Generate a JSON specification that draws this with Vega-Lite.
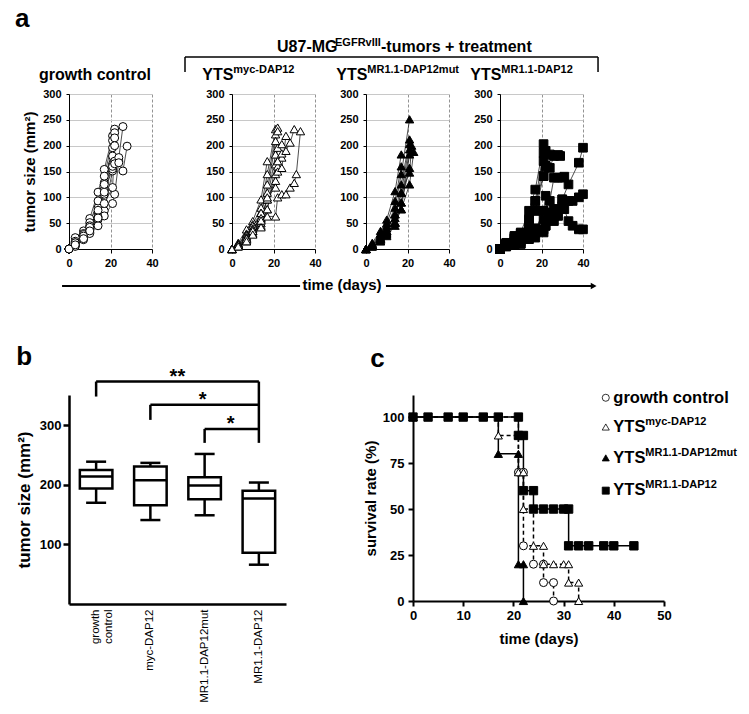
{
"$schema":"https://vega.github.io/schema/vega-lite/v6.json",
"background":"white",
"padding":{"left":15,"top":5,"right":5,"bottom":5},
"config":{"font":"Liberation Sans","view":{"stroke":null},
 "axis":{"domainColor":"black","tickColor":"black","labelColor":"black","titleColor":"black","titleFontWeight":"bold","labelFlush":false,"labelOverlap":false},
 "point":{"opacity":1},"tick":{"opacity":1},"text":{"color":"black"}},
"datasets":{
"growth":[
{"group":"GC","mouse":1,"day":0,"size":0},{"group":"GC","mouse":1,"day":3,"size":10},{"group":"GC","mouse":1,"day":7,"size":25},{"group":"GC","mouse":1,"day":10,"size":40},{"group":"GC","mouse":1,"day":14,"size":80},{"group":"GC","mouse":1,"day":17,"size":128},{"group":"GC","mouse":1,"day":21,"size":196},
{"group":"GC","mouse":2,"day":0,"size":0},{"group":"GC","mouse":2,"day":3,"size":22},{"group":"GC","mouse":2,"day":7,"size":35},{"group":"GC","mouse":2,"day":10,"size":59},{"group":"GC","mouse":2,"day":14,"size":110},{"group":"GC","mouse":2,"day":17,"size":154},{"group":"GC","mouse":2,"day":21,"size":219},
{"group":"GC","mouse":3,"day":0,"size":0},{"group":"GC","mouse":3,"day":3,"size":15},{"group":"GC","mouse":3,"day":7,"size":30},{"group":"GC","mouse":3,"day":10,"size":51},{"group":"GC","mouse":3,"day":14,"size":93},{"group":"GC","mouse":3,"day":17,"size":141},{"group":"GC","mouse":3,"day":21,"size":210},
{"group":"GC","mouse":4,"day":0,"size":0},{"group":"GC","mouse":4,"day":3,"size":12},{"group":"GC","mouse":4,"day":7,"size":28},{"group":"GC","mouse":4,"day":10,"size":45},{"group":"GC","mouse":4,"day":14,"size":70},{"group":"GC","mouse":4,"day":17,"size":115},{"group":"GC","mouse":4,"day":21,"size":180},{"group":"GC","mouse":4,"day":22,"size":232},
{"group":"GC","mouse":5,"day":0,"size":0},{"group":"GC","mouse":5,"day":3,"size":8},{"group":"GC","mouse":5,"day":7,"size":22},{"group":"GC","mouse":5,"day":10,"size":35},{"group":"GC","mouse":5,"day":14,"size":67},{"group":"GC","mouse":5,"day":17,"size":106},{"group":"GC","mouse":5,"day":21,"size":164},{"group":"GC","mouse":5,"day":22,"size":225},
{"group":"GC","mouse":6,"day":0,"size":0},{"group":"GC","mouse":6,"day":3,"size":6},{"group":"GC","mouse":6,"day":7,"size":20},{"group":"GC","mouse":6,"day":10,"size":32},{"group":"GC","mouse":6,"day":14,"size":57},{"group":"GC","mouse":6,"day":17,"size":74},{"group":"GC","mouse":6,"day":21,"size":151},{"group":"GC","mouse":6,"day":22,"size":215},
{"group":"GC","mouse":7,"day":0,"size":0},{"group":"GC","mouse":7,"day":3,"size":5},{"group":"GC","mouse":7,"day":7,"size":18},{"group":"GC","mouse":7,"day":10,"size":30},{"group":"GC","mouse":7,"day":14,"size":45},{"group":"GC","mouse":7,"day":17,"size":64},{"group":"GC","mouse":7,"day":21,"size":88},{"group":"GC","mouse":7,"day":22,"size":106},{"group":"GC","mouse":7,"day":24,"size":170},
{"group":"GC","mouse":8,"day":0,"size":0},{"group":"GC","mouse":8,"day":3,"size":10},{"group":"GC","mouse":8,"day":7,"size":22},{"group":"GC","mouse":8,"day":10,"size":38},{"group":"GC","mouse":8,"day":14,"size":62},{"group":"GC","mouse":8,"day":17,"size":110},{"group":"GC","mouse":8,"day":21,"size":155},{"group":"GC","mouse":8,"day":22,"size":170},{"group":"GC","mouse":8,"day":24,"size":177},{"group":"GC","mouse":8,"day":26,"size":237},
{"group":"GC","mouse":9,"day":0,"size":0},{"group":"GC","mouse":9,"day":3,"size":12},{"group":"GC","mouse":9,"day":7,"size":25},{"group":"GC","mouse":9,"day":10,"size":42},{"group":"GC","mouse":9,"day":14,"size":75},{"group":"GC","mouse":9,"day":17,"size":125},{"group":"GC","mouse":9,"day":21,"size":160},{"group":"GC","mouse":9,"day":22,"size":165},{"group":"GC","mouse":9,"day":24,"size":167},{"group":"GC","mouse":9,"day":26,"size":151},{"group":"GC","mouse":9,"day":28,"size":199},
{"group":"GC","mouse":10,"day":0,"size":0},{"group":"GC","mouse":10,"day":3,"size":8},{"group":"GC","mouse":10,"day":7,"size":20},{"group":"GC","mouse":10,"day":10,"size":35},{"group":"GC","mouse":10,"day":14,"size":60},{"group":"GC","mouse":10,"day":17,"size":88},{"group":"GC","mouse":10,"day":21,"size":119},{"group":"GC","mouse":10,"day":22,"size":200},
{"group":"MYC","mouse":1,"day":0,"size":0},{"group":"MYC","mouse":1,"day":3,"size":12},{"group":"MYC","mouse":1,"day":7,"size":38},{"group":"MYC","mouse":1,"day":10,"size":54},{"group":"MYC","mouse":1,"day":14,"size":96},{"group":"MYC","mouse":1,"day":17,"size":170},
{"group":"MYC","mouse":2,"day":0,"size":0},{"group":"MYC","mouse":2,"day":3,"size":10},{"group":"MYC","mouse":2,"day":7,"size":30},{"group":"MYC","mouse":2,"day":10,"size":48},{"group":"MYC","mouse":2,"day":14,"size":80},{"group":"MYC","mouse":2,"day":17,"size":145},{"group":"MYC","mouse":2,"day":21,"size":232},
{"group":"MYC","mouse":3,"day":0,"size":0},{"group":"MYC","mouse":3,"day":3,"size":8},{"group":"MYC","mouse":3,"day":7,"size":28},{"group":"MYC","mouse":3,"day":10,"size":45},{"group":"MYC","mouse":3,"day":14,"size":70},{"group":"MYC","mouse":3,"day":17,"size":125},{"group":"MYC","mouse":3,"day":21,"size":222},
{"group":"MYC","mouse":4,"day":0,"size":0},{"group":"MYC","mouse":4,"day":3,"size":10},{"group":"MYC","mouse":4,"day":7,"size":25},{"group":"MYC","mouse":4,"day":10,"size":40},{"group":"MYC","mouse":4,"day":14,"size":70},{"group":"MYC","mouse":4,"day":17,"size":109},{"group":"MYC","mouse":4,"day":21,"size":209},{"group":"MYC","mouse":4,"day":22,"size":235},
{"group":"MYC","mouse":5,"day":0,"size":0},{"group":"MYC","mouse":5,"day":3,"size":6},{"group":"MYC","mouse":5,"day":7,"size":20},{"group":"MYC","mouse":5,"day":10,"size":35},{"group":"MYC","mouse":5,"day":14,"size":57},{"group":"MYC","mouse":5,"day":17,"size":96},{"group":"MYC","mouse":5,"day":21,"size":183},{"group":"MYC","mouse":5,"day":22,"size":228},
{"group":"MYC","mouse":6,"day":0,"size":0},{"group":"MYC","mouse":6,"day":3,"size":6},{"group":"MYC","mouse":6,"day":7,"size":18},{"group":"MYC","mouse":6,"day":10,"size":30},{"group":"MYC","mouse":6,"day":14,"size":50},{"group":"MYC","mouse":6,"day":17,"size":77},{"group":"MYC","mouse":6,"day":21,"size":164},{"group":"MYC","mouse":6,"day":22,"size":196},{"group":"MYC","mouse":6,"day":24,"size":203},
{"group":"MYC","mouse":7,"day":0,"size":0},{"group":"MYC","mouse":7,"day":3,"size":5},{"group":"MYC","mouse":7,"day":7,"size":15},{"group":"MYC","mouse":7,"day":10,"size":30},{"group":"MYC","mouse":7,"day":14,"size":45},{"group":"MYC","mouse":7,"day":17,"size":77},{"group":"MYC","mouse":7,"day":21,"size":145},{"group":"MYC","mouse":7,"day":22,"size":160},{"group":"MYC","mouse":7,"day":24,"size":177},
{"group":"MYC","mouse":8,"day":0,"size":0},{"group":"MYC","mouse":8,"day":3,"size":8},{"group":"MYC","mouse":8,"day":7,"size":22},{"group":"MYC","mouse":8,"day":10,"size":38},{"group":"MYC","mouse":8,"day":14,"size":60},{"group":"MYC","mouse":8,"day":17,"size":96},{"group":"MYC","mouse":8,"day":21,"size":132},{"group":"MYC","mouse":8,"day":22,"size":150},{"group":"MYC","mouse":8,"day":24,"size":157},{"group":"MYC","mouse":8,"day":26,"size":219},
{"group":"MYC","mouse":9,"day":0,"size":0},{"group":"MYC","mouse":9,"day":3,"size":8},{"group":"MYC","mouse":9,"day":7,"size":20},{"group":"MYC","mouse":9,"day":10,"size":35},{"group":"MYC","mouse":9,"day":14,"size":55},{"group":"MYC","mouse":9,"day":17,"size":100},{"group":"MYC","mouse":9,"day":21,"size":119},{"group":"MYC","mouse":9,"day":22,"size":170},{"group":"MYC","mouse":9,"day":24,"size":185},{"group":"MYC","mouse":9,"day":26,"size":190},{"group":"MYC","mouse":9,"day":28,"size":206},{"group":"MYC","mouse":9,"day":30,"size":232},
{"group":"MYC","mouse":10,"day":0,"size":0},{"group":"MYC","mouse":10,"day":3,"size":5},{"group":"MYC","mouse":10,"day":7,"size":15},{"group":"MYC","mouse":10,"day":10,"size":28},{"group":"MYC","mouse":10,"day":14,"size":42},{"group":"MYC","mouse":10,"day":17,"size":63},{"group":"MYC","mouse":10,"day":21,"size":63},{"group":"MYC","mouse":10,"day":22,"size":100},{"group":"MYC","mouse":10,"day":24,"size":106},{"group":"MYC","mouse":10,"day":26,"size":106},{"group":"MYC","mouse":10,"day":28,"size":119},{"group":"MYC","mouse":10,"day":30,"size":128},{"group":"MYC","mouse":10,"day":31,"size":145},{"group":"MYC","mouse":10,"day":33,"size":228},
{"group":"MUT","mouse":1,"day":0,"size":0},{"group":"MUT","mouse":1,"day":3,"size":12},{"group":"MUT","mouse":1,"day":7,"size":35},{"group":"MUT","mouse":1,"day":10,"size":57},{"group":"MUT","mouse":1,"day":14,"size":112},{"group":"MUT","mouse":1,"day":17,"size":183},
{"group":"MUT","mouse":2,"day":0,"size":0},{"group":"MUT","mouse":2,"day":3,"size":10},{"group":"MUT","mouse":2,"day":7,"size":30},{"group":"MUT","mouse":2,"day":10,"size":50},{"group":"MUT","mouse":2,"day":14,"size":93},{"group":"MUT","mouse":2,"day":17,"size":160},
{"group":"MUT","mouse":3,"day":0,"size":0},{"group":"MUT","mouse":3,"day":3,"size":8},{"group":"MUT","mouse":3,"day":7,"size":28},{"group":"MUT","mouse":3,"day":10,"size":45},{"group":"MUT","mouse":3,"day":14,"size":80},{"group":"MUT","mouse":3,"day":17,"size":145},{"group":"MUT","mouse":3,"day":21,"size":251},
{"group":"MUT","mouse":4,"day":0,"size":0},{"group":"MUT","mouse":4,"day":3,"size":8},{"group":"MUT","mouse":4,"day":7,"size":25},{"group":"MUT","mouse":4,"day":10,"size":40},{"group":"MUT","mouse":4,"day":14,"size":67},{"group":"MUT","mouse":4,"day":17,"size":125},{"group":"MUT","mouse":4,"day":21,"size":212},
{"group":"MUT","mouse":5,"day":0,"size":0},{"group":"MUT","mouse":5,"day":3,"size":6},{"group":"MUT","mouse":5,"day":7,"size":22},{"group":"MUT","mouse":5,"day":10,"size":35},{"group":"MUT","mouse":5,"day":14,"size":67},{"group":"MUT","mouse":5,"day":17,"size":109},{"group":"MUT","mouse":5,"day":21,"size":203},
{"group":"MUT","mouse":6,"day":0,"size":0},{"group":"MUT","mouse":6,"day":3,"size":6},{"group":"MUT","mouse":6,"day":7,"size":20},{"group":"MUT","mouse":6,"day":10,"size":32},{"group":"MUT","mouse":6,"day":14,"size":51},{"group":"MUT","mouse":6,"day":17,"size":90},{"group":"MUT","mouse":6,"day":21,"size":193},
{"group":"MUT","mouse":7,"day":0,"size":0},{"group":"MUT","mouse":7,"day":3,"size":5},{"group":"MUT","mouse":7,"day":7,"size":18},{"group":"MUT","mouse":7,"day":10,"size":30},{"group":"MUT","mouse":7,"day":14,"size":51},{"group":"MUT","mouse":7,"day":17,"size":77},{"group":"MUT","mouse":7,"day":21,"size":183},
{"group":"MUT","mouse":8,"day":0,"size":0},{"group":"MUT","mouse":8,"day":3,"size":5},{"group":"MUT","mouse":8,"day":7,"size":15},{"group":"MUT","mouse":8,"day":10,"size":25},{"group":"MUT","mouse":8,"day":14,"size":45},{"group":"MUT","mouse":8,"day":17,"size":90},{"group":"MUT","mouse":8,"day":21,"size":157},
{"group":"MUT","mouse":9,"day":0,"size":0},{"group":"MUT","mouse":9,"day":3,"size":8},{"group":"MUT","mouse":9,"day":7,"size":20},{"group":"MUT","mouse":9,"day":10,"size":35},{"group":"MUT","mouse":9,"day":14,"size":60},{"group":"MUT","mouse":9,"day":17,"size":109},{"group":"MUT","mouse":9,"day":21,"size":148},{"group":"MUT","mouse":9,"day":22,"size":200},
{"group":"MUT","mouse":10,"day":0,"size":0},{"group":"MUT","mouse":10,"day":3,"size":5},{"group":"MUT","mouse":10,"day":7,"size":15},{"group":"MUT","mouse":10,"day":10,"size":28},{"group":"MUT","mouse":10,"day":14,"size":51},{"group":"MUT","mouse":10,"day":17,"size":77},{"group":"MUT","mouse":10,"day":21,"size":125},{"group":"MUT","mouse":10,"day":23,"size":188},
{"group":"MR","mouse":1,"day":0,"size":0},{"group":"MR","mouse":1,"day":3,"size":12},{"group":"MR","mouse":1,"day":7,"size":25},{"group":"MR","mouse":1,"day":10,"size":32},{"group":"MR","mouse":1,"day":14,"size":74},{"group":"MR","mouse":1,"day":17,"size":115},{"group":"MR","mouse":1,"day":21,"size":203},
{"group":"MR","mouse":2,"day":0,"size":0},{"group":"MR","mouse":2,"day":3,"size":10},{"group":"MR","mouse":2,"day":7,"size":22},{"group":"MR","mouse":2,"day":10,"size":30},{"group":"MR","mouse":2,"day":14,"size":57},{"group":"MR","mouse":2,"day":17,"size":93},{"group":"MR","mouse":2,"day":21,"size":186},{"group":"MR","mouse":2,"day":22,"size":190},
{"group":"MR","mouse":3,"day":0,"size":0},{"group":"MR","mouse":3,"day":3,"size":8},{"group":"MR","mouse":3,"day":7,"size":20},{"group":"MR","mouse":3,"day":10,"size":25},{"group":"MR","mouse":3,"day":14,"size":45},{"group":"MR","mouse":3,"day":17,"size":74},{"group":"MR","mouse":3,"day":21,"size":170},{"group":"MR","mouse":3,"day":22,"size":161},
{"group":"MR","mouse":4,"day":0,"size":0},{"group":"MR","mouse":4,"day":3,"size":6},{"group":"MR","mouse":4,"day":7,"size":15},{"group":"MR","mouse":4,"day":10,"size":20},{"group":"MR","mouse":4,"day":14,"size":32},{"group":"MR","mouse":4,"day":17,"size":32},{"group":"MR","mouse":4,"day":21,"size":74},{"group":"MR","mouse":4,"day":22,"size":103},
{"group":"MR","mouse":5,"day":0,"size":0},{"group":"MR","mouse":5,"day":3,"size":10},{"group":"MR","mouse":5,"day":7,"size":25},{"group":"MR","mouse":5,"day":10,"size":30},{"group":"MR","mouse":5,"day":14,"size":57},{"group":"MR","mouse":5,"day":17,"size":93},{"group":"MR","mouse":5,"day":21,"size":141},{"group":"MR","mouse":5,"day":24,"size":183},
{"group":"MR","mouse":6,"day":0,"size":0},{"group":"MR","mouse":6,"day":3,"size":6},{"group":"MR","mouse":6,"day":7,"size":12},{"group":"MR","mouse":6,"day":10,"size":18},{"group":"MR","mouse":6,"day":14,"size":40},{"group":"MR","mouse":6,"day":17,"size":74},{"group":"MR","mouse":6,"day":21,"size":141},{"group":"MR","mouse":6,"day":22,"size":160},{"group":"MR","mouse":6,"day":24,"size":157},{"group":"MR","mouse":6,"day":26,"size":180},{"group":"MR","mouse":6,"day":28,"size":182},{"group":"MR","mouse":6,"day":29,"size":180},
{"group":"MR","mouse":7,"day":0,"size":0},{"group":"MR","mouse":7,"day":3,"size":5},{"group":"MR","mouse":7,"day":7,"size":10},{"group":"MR","mouse":7,"day":10,"size":15},{"group":"MR","mouse":7,"day":14,"size":25},{"group":"MR","mouse":7,"day":17,"size":35},{"group":"MR","mouse":7,"day":21,"size":74},{"group":"MR","mouse":7,"day":24,"size":93},{"group":"MR","mouse":7,"day":26,"size":138},{"group":"MR","mouse":7,"day":28,"size":138},{"group":"MR","mouse":7,"day":30,"size":138},{"group":"MR","mouse":7,"day":31,"size":140},
{"group":"MR","mouse":8,"day":0,"size":0},{"group":"MR","mouse":8,"day":3,"size":5},{"group":"MR","mouse":8,"day":7,"size":8},{"group":"MR","mouse":8,"day":10,"size":10},{"group":"MR","mouse":8,"day":14,"size":19},{"group":"MR","mouse":8,"day":17,"size":22},{"group":"MR","mouse":8,"day":21,"size":38},{"group":"MR","mouse":8,"day":22,"size":45},{"group":"MR","mouse":8,"day":24,"size":57},{"group":"MR","mouse":8,"day":26,"size":64},{"group":"MR","mouse":8,"day":28,"size":77},{"group":"MR","mouse":8,"day":30,"size":96},{"group":"MR","mouse":8,"day":33,"size":125},{"group":"MR","mouse":8,"day":38,"size":167},{"group":"MR","mouse":8,"day":40,"size":196},
{"group":"MR","mouse":9,"day":0,"size":0},{"group":"MR","mouse":9,"day":3,"size":8},{"group":"MR","mouse":9,"day":7,"size":12},{"group":"MR","mouse":9,"day":10,"size":10},{"group":"MR","mouse":9,"day":14,"size":25},{"group":"MR","mouse":9,"day":17,"size":32},{"group":"MR","mouse":9,"day":21,"size":32},{"group":"MR","mouse":9,"day":22,"size":45},{"group":"MR","mouse":9,"day":24,"size":70},{"group":"MR","mouse":9,"day":26,"size":77},{"group":"MR","mouse":9,"day":28,"size":77},{"group":"MR","mouse":9,"day":30,"size":83},{"group":"MR","mouse":9,"day":33,"size":93},{"group":"MR","mouse":9,"day":35,"size":93},{"group":"MR","mouse":9,"day":38,"size":100},{"group":"MR","mouse":9,"day":40,"size":106},
{"group":"MR","mouse":10,"day":0,"size":0},{"group":"MR","mouse":10,"day":3,"size":10},{"group":"MR","mouse":10,"day":7,"size":20},{"group":"MR","mouse":10,"day":10,"size":25},{"group":"MR","mouse":10,"day":14,"size":32},{"group":"MR","mouse":10,"day":17,"size":40},{"group":"MR","mouse":10,"day":21,"size":57},{"group":"MR","mouse":10,"day":24,"size":57},{"group":"MR","mouse":10,"day":26,"size":54},{"group":"MR","mouse":10,"day":28,"size":64},{"group":"MR","mouse":10,"day":30,"size":96},{"group":"MR","mouse":10,"day":31,"size":77},{"group":"MR","mouse":10,"day":33,"size":54},{"group":"MR","mouse":10,"day":35,"size":45},{"group":"MR","mouse":10,"day":38,"size":38},{"group":"MR","mouse":10,"day":40,"size":38}
],
"box":[
{"group":"growth control","min":170,"q1":194,"median":214,"q3":225,"max":239},
{"group":"myc-DAP12","min":141,"q1":166,"median":208,"q3":231,"max":237},
{"group":"MR1.1-DAP12mut","min":149,"q1":176,"median":199,"q3":213,"max":252},
{"group":"MR1.1-DAP12","min":66,"q1":86,"median":177,"q3":190,"max":204}
],
"km":[
{"group":"GC","k":0,"day":0,"surv":100},{"group":"GC","k":1,"day":21,"surv":70},{"group":"GC","k":2,"day":22,"surv":70},{"group":"GC","k":3,"day":22,"surv":30},{"group":"GC","k":4,"day":24,"surv":20},{"group":"GC","k":5,"day":26,"surv":20},{"group":"GC","k":6,"day":26,"surv":10},{"group":"GC","k":7,"day":28,"surv":10},{"group":"GC","k":8,"day":28,"surv":0},
{"group":"MYC","k":0,"day":0,"surv":100},{"group":"MYC","k":1,"day":17,"surv":90},{"group":"MYC","k":2,"day":21,"surv":90},{"group":"MYC","k":3,"day":21,"surv":70},{"group":"MYC","k":4,"day":22,"surv":70},{"group":"MYC","k":5,"day":22,"surv":50},{"group":"MYC","k":6,"day":24,"surv":30},{"group":"MYC","k":7,"day":26,"surv":30},{"group":"MYC","k":8,"day":26,"surv":20},{"group":"MYC","k":9,"day":28,"surv":20},{"group":"MYC","k":10,"day":30,"surv":20},{"group":"MYC","k":11,"day":31,"surv":20},{"group":"MYC","k":12,"day":31,"surv":10},{"group":"MYC","k":13,"day":33,"surv":10},{"group":"MYC","k":14,"day":33,"surv":0},
{"group":"MUT","k":0,"day":0,"surv":100},{"group":"MUT","k":1,"day":17,"surv":80},{"group":"MUT","k":2,"day":21,"surv":80},{"group":"MUT","k":3,"day":21,"surv":20},{"group":"MUT","k":4,"day":22,"surv":20},{"group":"MUT","k":5,"day":22,"surv":0},
{"group":"MR","k":0,"day":0,"surv":100},{"group":"MR","k":1,"day":3,"surv":100},{"group":"MR","k":2,"day":7,"surv":100},{"group":"MR","k":3,"day":10,"surv":100},{"group":"MR","k":4,"day":14,"surv":100},{"group":"MR","k":5,"day":17,"surv":100},{"group":"MR","k":6,"day":21,"surv":100},{"group":"MR","k":7,"day":21,"surv":90},{"group":"MR","k":8,"day":22,"surv":90},{"group":"MR","k":9,"day":22,"surv":60},{"group":"MR","k":10,"day":24,"surv":60},{"group":"MR","k":11,"day":24,"surv":50},{"group":"MR","k":12,"day":26,"surv":50},{"group":"MR","k":13,"day":28,"surv":50},{"group":"MR","k":14,"day":30,"surv":50},{"group":"MR","k":15,"day":31,"surv":50},{"group":"MR","k":16,"day":31,"surv":30},{"group":"MR","k":17,"day":33,"surv":30},{"group":"MR","k":18,"day":35,"surv":30},{"group":"MR","k":19,"day":38,"surv":30},{"group":"MR","k":20,"day":40,"surv":30},{"group":"MR","k":21,"day":44,"surv":30}
]
},
"spacing":49,
"vconcat":[
{"spacing":80,"bounds":"flush","hconcat":[
 {"width":83,"height":155,"resolve":{"axis":{"x":"independent","y":"independent"}},
  "layer":[
   {"data":{"name":"growth"},"transform":[{"filter":"datum.group === 'GC'"}],"mark":{"type":"line","color":"#222","strokeWidth":0.8},
    "encoding":{"x":{"field":"day","type":"quantitative","scale":{"domain":[0,40],"nice":false},"axis":{"orient":"bottom","values":[0,20,40],"grid":true,"gridDash":[3,2],"gridColor":"#777","gridWidth":0.8,"title":null,"labelFontSize":11,"labelFontWeight":"bold","tickSize":4,"labelPadding":4}},
     "y":{"field":"size","type":"quantitative","scale":{"domain":[0,300],"nice":false},"axis":{"orient":"left","values":[0,50,100,150,200,250,300],"grid":true,"gridColor":"#c8c8c8","title":"tumor size (mm²)","titleFontSize":15,"titlePadding":5,"labelFontSize":11,"labelFontWeight":"bold","tickSize":3,"labelPadding":5}},
     "detail":{"field":"mouse","type":"nominal"}}},
   {"data":{"name":"growth"},"transform":[{"filter":"datum.group === 'GC'"}],"mark":{"type":"point","shape":"circle","filled":true,"fill":"white","stroke":"black","strokeWidth":1,"size":64},"encoding":{"x":{"field":"day","type":"quantitative","axis":null},"y":{"field":"size","type":"quantitative","axis":null}}},
   {"data":{"values":[{}]},"mark":{"type":"text","text":"a","align":"left","baseline":"alphabetic","fontSize":26,"fontWeight":"bold"},"encoding":{"x":{"datum":-26,"type":"quantitative","axis":null},"y":{"datum":429.7,"type":"quantitative","axis":null}}},
   {"data":{"values":[{}]},"mark":{"type":"text","text":"growth control","align":"left","baseline":"alphabetic","fontSize":16,"fontWeight":"bold"},"encoding":{"x":{"datum":-14.5,"type":"quantitative","axis":null},"y":{"datum":327,"type":"quantitative","axis":null}}}
  ]},
 {"spacing":51,"bounds":"flush","hconcat":[
  {"width":83,"height":155,"resolve":{"axis":{"x":"independent","y":"independent"}},
   "layer":[
    {"data":{"name":"growth"},"transform":[{"filter":"datum.group === 'MYC'"}],"mark":{"type":"line","color":"#222","strokeWidth":0.8},
     "encoding":{"x":{"field":"day","type":"quantitative","scale":{"domain":[0,40],"nice":false},"axis":{"orient":"bottom","values":[0,20,40],"grid":true,"gridDash":[3,2],"gridColor":"#777","gridWidth":0.8,"title":null,"labelFontSize":11,"labelFontWeight":"bold","tickSize":4,"labelPadding":4}},
      "y":{"field":"size","type":"quantitative","scale":{"domain":[0,300],"nice":false},"axis":{"orient":"left","values":[0,50,100,150,200,250,300],"grid":true,"gridColor":"#c8c8c8","title":null,"labelFontSize":11,"labelFontWeight":"bold","tickSize":3,"labelPadding":5}},
      "detail":{"field":"mouse","type":"nominal"}}},
    {"data":{"name":"growth"},"transform":[{"filter":"datum.group === 'MYC'"}],"mark":{"type":"point","shape":"triangle-up","filled":true,"fill":"white","stroke":"black","strokeWidth":1,"size":70},"encoding":{"x":{"field":"day","type":"quantitative","axis":null},"y":{"field":"size","type":"quantitative","axis":null}}},
    {"data":{"values":[{}]},"mark":{"type":"text","text":"YTS","align":"left","baseline":"alphabetic","fontSize":16,"fontWeight":"bold"},"encoding":{"x":{"datum":-14.3,"type":"quantitative","axis":null},"y":{"datum":327,"type":"quantitative","axis":null}}},
    {"data":{"values":[{}]},"mark":{"type":"text","text":"myc-DAP12","align":"left","baseline":"alphabetic","fontSize":11,"fontWeight":"bold","dx":31,"dy":-7},"encoding":{"x":{"datum":-14.3,"type":"quantitative","axis":null},"y":{"datum":327,"type":"quantitative","axis":null}}},
    {"data":{"values":[{}]},"mark":{"type":"text","text":"U87-MG","align":"left","baseline":"alphabetic","fontSize":16,"fontWeight":"bold"},"encoding":{"x":{"datum":21.7,"type":"quantitative","axis":null},"y":{"datum":381.9,"type":"quantitative","axis":null}}},
    {"data":{"values":[{}]},"mark":{"type":"text","text":"EGFRvIII","align":"left","baseline":"alphabetic","fontSize":11,"fontWeight":"bold","dx":58,"dy":-6},"encoding":{"x":{"datum":21.7,"type":"quantitative","axis":null},"y":{"datum":381.9,"type":"quantitative","axis":null}}},
    {"data":{"values":[{}]},"mark":{"type":"text","text":"-tumors + treatment","align":"left","baseline":"alphabetic","fontSize":16,"fontWeight":"bold","dx":104},"encoding":{"x":{"datum":21.7,"type":"quantitative","axis":null},"y":{"datum":381.9,"type":"quantitative","axis":null}}},
    {"data":{"values":[{}]},"mark":{"type":"rule","color":"black","strokeWidth":1.5},"encoding":{"x":{"datum":-22.65,"type":"quantitative","axis":null},"x2":{"datum":176.4},"y":{"datum":371.6,"type":"quantitative","axis":null}}},
    {"data":{"values":[{}]},"mark":{"type":"rule","color":"black","strokeWidth":1.5},"encoding":{"x":{"datum":-22.65,"type":"quantitative","axis":null},"y":{"datum":371.6,"type":"quantitative","axis":null},"y2":{"datum":342.6}}},
    {"data":{"values":[{}]},"mark":{"type":"rule","color":"black","strokeWidth":1.5},"encoding":{"x":{"datum":176.4,"type":"quantitative","axis":null},"y":{"datum":371.6,"type":"quantitative","axis":null},"y2":{"datum":342.6}}},
    {"data":{"values":[{}]},"mark":{"type":"rule","color":"black","strokeWidth":1.8},"encoding":{"x":{"datum":-81.9,"type":"quantitative","axis":null},"x2":{"datum":32.8},"y":{"datum":-71.6,"type":"quantitative","axis":null}}},
    {"data":{"values":[{}]},"mark":{"type":"rule","color":"black","strokeWidth":1.8},"encoding":{"x":{"datum":74.2,"type":"quantitative","axis":null},"x2":{"datum":173},"y":{"datum":-71.6,"type":"quantitative","axis":null}}},
    {"data":{"values":[{}]},"mark":{"type":"point","shape":"triangle-right","filled":true,"color":"black","size":45},"encoding":{"x":{"datum":174.3,"type":"quantitative","axis":null},"y":{"datum":-71.6,"type":"quantitative","axis":null}}},
    {"data":{"values":[{}]},"mark":{"type":"text","text":"time (days)","align":"center","baseline":"middle","fontSize":15,"fontWeight":"bold"},"encoding":{"x":{"datum":53,"type":"quantitative","axis":null},"y":{"datum":-69.7,"type":"quantitative","axis":null}}}
   ]},
  {"width":83,"height":155,"resolve":{"axis":{"x":"independent","y":"independent"}},
   "layer":[
    {"data":{"name":"growth"},"transform":[{"filter":"datum.group === 'MUT'"}],"mark":{"type":"line","color":"#222","strokeWidth":0.8},
     "encoding":{"x":{"field":"day","type":"quantitative","scale":{"domain":[0,40],"nice":false},"axis":{"orient":"bottom","values":[0,20,40],"grid":true,"gridDash":[3,2],"gridColor":"#777","gridWidth":0.8,"title":null,"labelFontSize":11,"labelFontWeight":"bold","tickSize":4,"labelPadding":4}},
      "y":{"field":"size","type":"quantitative","scale":{"domain":[0,300],"nice":false},"axis":{"orient":"left","values":[0,50,100,150,200,250,300],"grid":true,"gridColor":"#c8c8c8","title":null,"labelFontSize":11,"labelFontWeight":"bold","tickSize":3,"labelPadding":5}},
      "detail":{"field":"mouse","type":"nominal"}}},
    {"data":{"name":"growth"},"transform":[{"filter":"datum.group === 'MUT'"}],"mark":{"type":"point","shape":"triangle-up","filled":true,"fill":"black","stroke":"black","strokeWidth":1,"size":70},"encoding":{"x":{"field":"day","type":"quantitative","axis":null},"y":{"field":"size","type":"quantitative","axis":null}}},
    {"data":{"values":[{}]},"mark":{"type":"text","text":"YTS","align":"left","baseline":"alphabetic","fontSize":16,"fontWeight":"bold"},"encoding":{"x":{"datum":-14.3,"type":"quantitative","axis":null},"y":{"datum":327,"type":"quantitative","axis":null}}},
    {"data":{"values":[{}]},"mark":{"type":"text","text":"MR1.1-DAP12mut","align":"left","baseline":"alphabetic","fontSize":11,"fontWeight":"bold","dx":31,"dy":-7},"encoding":{"x":{"datum":-14.3,"type":"quantitative","axis":null},"y":{"datum":327,"type":"quantitative","axis":null}}}
   ]},
  {"width":83,"height":155,"resolve":{"axis":{"x":"independent","y":"independent"}},
   "layer":[
    {"data":{"name":"growth"},"transform":[{"filter":"datum.group === 'MR'"}],"mark":{"type":"line","color":"#222","strokeWidth":0.8},
     "encoding":{"x":{"field":"day","type":"quantitative","scale":{"domain":[0,40],"nice":false},"axis":{"orient":"bottom","values":[0,20,40],"grid":true,"gridDash":[3,2],"gridColor":"#777","gridWidth":0.8,"title":null,"labelFontSize":11,"labelFontWeight":"bold","tickSize":4,"labelPadding":4}},
      "y":{"field":"size","type":"quantitative","scale":{"domain":[0,300],"nice":false},"axis":{"orient":"left","values":[0,50,100,150,200,250,300],"grid":true,"gridColor":"#c8c8c8","title":null,"labelFontSize":11,"labelFontWeight":"bold","tickSize":3,"labelPadding":5}},
      "detail":{"field":"mouse","type":"nominal"}}},
    {"data":{"name":"growth"},"transform":[{"filter":"datum.group === 'MR'"}],"mark":{"type":"point","shape":"square","filled":true,"fill":"black","stroke":"black","strokeWidth":1,"size":75},"encoding":{"x":{"field":"day","type":"quantitative","axis":null},"y":{"field":"size","type":"quantitative","axis":null}}},
    {"data":{"values":[{}]},"mark":{"type":"text","text":"YTS","align":"left","baseline":"alphabetic","fontSize":16,"fontWeight":"bold"},"encoding":{"x":{"datum":-14.3,"type":"quantitative","axis":null},"y":{"datum":327,"type":"quantitative","axis":null}}},
    {"data":{"values":[{}]},"mark":{"type":"text","text":"MR1.1-DAP12","align":"left","baseline":"alphabetic","fontSize":11,"fontWeight":"bold","dx":31,"dy":-7},"encoding":{"x":{"datum":-14.3,"type":"quantitative","axis":null},"y":{"datum":327,"type":"quantitative","axis":null}}}
   ]}
 ]}
]},
{"spacing":127,"bounds":"flush","hconcat":[
 {"width":217,"height":209,
  "layer":[
   {"data":{"name":"box"},"mark":{"type":"rule","color":"black","strokeWidth":2.5},"encoding":{"x":{"field":"group","type":"nominal","scale":{"domain":["growth control","myc-DAP12","MR1.1-DAP12mut","MR1.1-DAP12"],"paddingInner":0,"paddingOuter":0},"axis":{"title":null,"labelAngle":-90,"labelFontSize":11.5,"ticks":false,"domainWidth":2.5,"labelPadding":5,"labelLineHeight":13,"labelExpr":"datum.value === 'growth control' ? ['growth', 'control'] : datum.value"}},"y":{"field":"min","type":"quantitative","scale":{"domain":[0,351],"nice":false},"axis":{"values":[100,200,300],"grid":false,"title":"tumor size (mm²)","titleFontSize":17,"titlePadding":6,"labelFontSize":13,"labelFontWeight":"bold","domainWidth":2.5,"tickWidth":2.5,"tickSize":6,"labelPadding":2}},"y2":{"field":"max"}}},
   {"data":{"name":"box"},"mark":{"type":"bar","fill":"white","stroke":"black","strokeWidth":2.5,"width":{"band":0.6}},"encoding":{"x":{"field":"group","type":"nominal"},"y":{"field":"q1","type":"quantitative"},"y2":{"field":"q3"}}},
   {"data":{"name":"box"},"mark":{"type":"tick","color":"black","size":33,"thickness":2.5},"encoding":{"x":{"field":"group","type":"nominal"},"y":{"field":"median","type":"quantitative"}}},
   {"data":{"name":"box"},"transform":[{"fold":["min","max"],"as":["stat","value"]}],"mark":{"type":"tick","color":"black","size":20,"thickness":2.5},"encoding":{"x":{"field":"group","type":"nominal"},"y":{"field":"value","type":"quantitative"}}},
   {"data":{"values":[{}]},"mark":{"type":"rule","color":"black","strokeWidth":2.5},"encoding":{"x":{"datum":"growth control","type":"nominal"},"x2":{"datum":"MR1.1-DAP12"},"y":{"datum":373.6,"type":"quantitative"}}},
   {"data":{"values":[{}]},"mark":{"type":"rule","color":"black","strokeWidth":2.5},"encoding":{"x":{"datum":"growth control","type":"nominal"},"y":{"datum":373.6,"type":"quantitative"},"y2":{"datum":348.4}}},
   {"data":{"values":[{}]},"mark":{"type":"rule","color":"black","strokeWidth":2.5},"encoding":{"x":{"datum":"myc-DAP12","type":"nominal"},"x2":{"datum":"MR1.1-DAP12"},"y":{"datum":334.5,"type":"quantitative"}}},
   {"data":{"values":[{}]},"mark":{"type":"rule","color":"black","strokeWidth":2.5},"encoding":{"x":{"datum":"myc-DAP12","type":"nominal"},"y":{"datum":334.5,"type":"quantitative"},"y2":{"datum":309.2}}},
   {"data":{"values":[{}]},"mark":{"type":"rule","color":"black","strokeWidth":2.5},"encoding":{"x":{"datum":"MR1.1-DAP12mut","type":"nominal"},"x2":{"datum":"MR1.1-DAP12"},"y":{"datum":294,"type":"quantitative"}}},
   {"data":{"values":[{}]},"mark":{"type":"rule","color":"black","strokeWidth":2.5},"encoding":{"x":{"datum":"MR1.1-DAP12mut","type":"nominal"},"y":{"datum":294,"type":"quantitative"},"y2":{"datum":270.6}}},
   {"data":{"values":[{}]},"mark":{"type":"rule","color":"black","strokeWidth":2.5},"encoding":{"x":{"datum":"MR1.1-DAP12","type":"nominal"},"y":{"datum":373.6,"type":"quantitative"},"y2":{"datum":270.6}}},
   {"data":{"values":[{}]},"mark":{"type":"text","text":"**","align":"center","baseline":"alphabetic","fontSize":20,"fontWeight":"bold","dx":27},"encoding":{"x":{"datum":"myc-DAP12","type":"nominal"},"y":{"datum":371.4,"type":"quantitative"}}},
   {"data":{"values":[{}]},"mark":{"type":"text","text":"*","align":"center","baseline":"alphabetic","fontSize":20,"fontWeight":"bold","dx":-2},"encoding":{"x":{"datum":"MR1.1-DAP12mut","type":"nominal"},"y":{"datum":332.8,"type":"quantitative"}}},
   {"data":{"values":[{}]},"mark":{"type":"text","text":"*","align":"center","baseline":"alphabetic","fontSize":20,"fontWeight":"bold","dx":26},"encoding":{"x":{"datum":"MR1.1-DAP12mut","type":"nominal"},"y":{"datum":292.4,"type":"quantitative"}}},
   {"data":{"values":[{}]},"mark":{"type":"text","text":"b","align":"left","baseline":"alphabetic","fontSize":26,"fontWeight":"bold","dx":-80},"encoding":{"x":{"datum":"growth control","type":"nominal"},"y":{"datum":401.7,"type":"quantitative"}}}
  ]},
 {"width":251,"height":206,
  "layer":[
   {"data":{"name":"km"},"mark":{"type":"line","interpolate":"step-after","color":"black","strokeWidth":1.5},
    "encoding":{"x":{"field":"day","type":"quantitative","scale":{"domain":[0,50],"nice":false},"axis":{"values":[0,10,20,30,40,50],"grid":false,"title":"time (days)","titleFontSize":15,"titlePadding":9,"labelFontSize":13,"labelFontWeight":"bold","domainWidth":2,"tickWidth":2,"tickSize":5,"labelPadding":3}},
     "y":{"field":"surv","type":"quantitative","scale":{"domain":[0,112],"nice":false},"axis":{"values":[0,25,50,75,100],"grid":false,"title":"survival rate (%)","titleFontSize":15,"titlePadding":4,"labelFontSize":13,"labelFontWeight":"bold","domainWidth":2,"tickWidth":2,"tickSize":5,"labelPadding":4}},
     "strokeDash":{"field":"group","type":"nominal","scale":{"domain":["GC","MYC","MUT","MR"],"range":[[4,3],[4,3],[1,0],[1,0]]},"legend":null},
     "order":{"field":"k","type":"quantitative"}}},
   {"data":{"name":"km"},"mark":{"type":"point","filled":true,"stroke":"black","strokeWidth":1},
    "encoding":{"x":{"field":"day","type":"quantitative"},"y":{"field":"surv","type":"quantitative"},
     "shape":{"field":"group","type":"nominal","scale":{"domain":["GC","MYC","MUT","MR"],"range":["circle","triangle-up","triangle-up","square"]},"legend":null},
     "fill":{"field":"group","type":"nominal","scale":{"domain":["GC","MYC","MUT","MR"],"range":["white","white","black","black"]},"legend":null},
     "size":{"field":"group","type":"nominal","scale":{"domain":["GC","MYC","MUT","MR"],"range":[64,70,70,95]},"legend":null}}},
   {"data":{"values":[{}]},"mark":{"type":"text","text":"c","align":"left","baseline":"alphabetic","fontSize":26,"fontWeight":"bold"},"encoding":{"x":{"datum":-8.5,"type":"quantitative"},"y":{"datum":127.2,"type":"quantitative"}}},
   {"data":{"values":[{}]},"mark":{"type":"point","shape":"circle","filled":true,"fill":"white","stroke":"black","strokeWidth":0.8,"size":50},"encoding":{"x":{"datum":38.4,"type":"quantitative"},"y":{"datum":110.5,"type":"quantitative"}}},
   {"data":{"values":[{}]},"mark":{"type":"point","shape":"triangle-up","filled":true,"fill":"white","stroke":"black","strokeWidth":0.8,"size":50},"encoding":{"x":{"datum":38.4,"type":"quantitative"},"y":{"datum":94.6,"type":"quantitative"}}},
   {"data":{"values":[{}]},"mark":{"type":"point","shape":"triangle-up","filled":true,"fill":"black","stroke":"black","strokeWidth":0.8,"size":50},"encoding":{"x":{"datum":38.4,"type":"quantitative"},"y":{"datum":77.8,"type":"quantitative"}}},
   {"data":{"values":[{}]},"mark":{"type":"point","shape":"square","filled":true,"fill":"black","stroke":"black","strokeWidth":0.8,"size":50},"encoding":{"x":{"datum":38.4,"type":"quantitative"},"y":{"datum":60,"type":"quantitative"}}},
   {"data":{"values":[{}]},"mark":{"type":"text","text":"growth control","align":"left","baseline":"alphabetic","fontSize":16.5,"fontWeight":"bold"},"encoding":{"x":{"datum":39.9,"type":"quantitative"},"y":{"datum":107.8,"type":"quantitative"}}},
   {"data":{"values":[{}]},"mark":{"type":"text","text":"YTS","align":"left","baseline":"alphabetic","fontSize":16.5,"fontWeight":"bold"},"encoding":{"x":{"datum":39.9,"type":"quantitative"},"y":{"datum":92.1,"type":"quantitative"}}},
   {"data":{"values":[{}]},"mark":{"type":"text","text":"myc-DAP12","align":"left","baseline":"alphabetic","fontSize":11,"fontWeight":"bold","dx":32,"dy":-7},"encoding":{"x":{"datum":39.9,"type":"quantitative"},"y":{"datum":92.1,"type":"quantitative"}}},
   {"data":{"values":[{}]},"mark":{"type":"text","text":"YTS","align":"left","baseline":"alphabetic","fontSize":16.5,"fontWeight":"bold"},"encoding":{"x":{"datum":39.9,"type":"quantitative"},"y":{"datum":74.9,"type":"quantitative"}}},
   {"data":{"values":[{}]},"mark":{"type":"text","text":"MR1.1-DAP12mut","align":"left","baseline":"alphabetic","fontSize":11,"fontWeight":"bold","dx":32,"dy":-7},"encoding":{"x":{"datum":39.9,"type":"quantitative"},"y":{"datum":74.9,"type":"quantitative"}}},
   {"data":{"values":[{}]},"mark":{"type":"text","text":"YTS","align":"left","baseline":"alphabetic","fontSize":16.5,"fontWeight":"bold"},"encoding":{"x":{"datum":39.9,"type":"quantitative"},"y":{"datum":57.6,"type":"quantitative"}}},
   {"data":{"values":[{}]},"mark":{"type":"text","text":"MR1.1-DAP12","align":"left","baseline":"alphabetic","fontSize":11,"fontWeight":"bold","dx":32,"dy":-7},"encoding":{"x":{"datum":39.9,"type":"quantitative"},"y":{"datum":57.6,"type":"quantitative"}}}
  ]}
]}
]
}
